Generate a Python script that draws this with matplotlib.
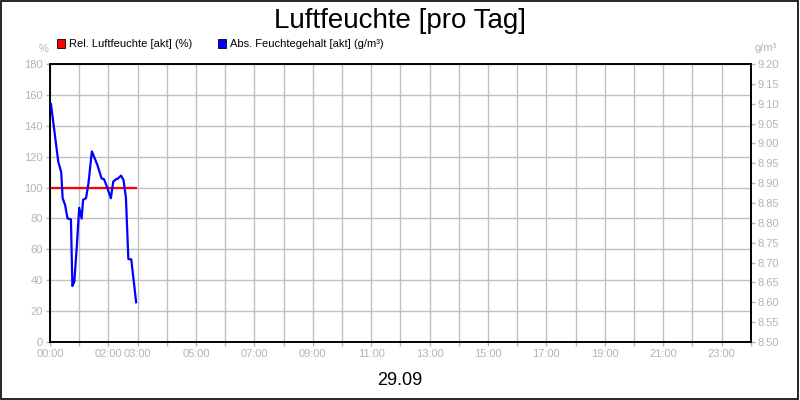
import matplotlib
matplotlib.use("Agg")
import matplotlib.pyplot as plt
from matplotlib.patches import Patch, Rectangle
import numpy as np

plt.rcParams['font.family'] = ['Liberation Sans', 'DejaVu Sans']

# Zeit in Minuten seit 00:00
rel_min = [0, 177]
rel_val = [100, 100]

abs_min = [2, 17, 23, 26, 31, 36, 43, 46, 50, 55, 60, 65, 68, 74, 79, 86,
           93, 97, 106, 111, 117, 125, 130, 136, 140, 146, 151, 156, 161, 167, 177]
abs_val = [9.099, 8.954, 8.928, 8.862, 8.845, 8.811, 8.809, 8.641, 8.652, 8.740,
           8.838, 8.811, 8.858, 8.862, 8.899, 8.980, 8.959, 8.947, 8.912, 8.910,
           8.891, 8.862, 8.904, 8.910, 8.912, 8.919, 8.908, 8.864, 8.709, 8.708, 8.600]

hour_labels = ['00:00', '', '02:00', '03:00', '', '05:00', '', '07:00', '', '09:00', '',
               '11:00', '', '13:00', '', '15:00', '', '17:00', '', '19:00', '',
               '21:00', '', '23:00', '']

grey = '#b4b4b4'

fig = plt.figure(figsize=(8, 4), dpi=100)
ax = fig.add_axes([0.0625, 0.145, 0.876, 0.695])
ax2 = ax.twinx()

ax.set_xlim(0, 24 * 60)
ax.set_ylim(0, 180)
ax.set_yticks(np.arange(0, 181, 20))
ax.set_xticks(np.arange(0, 24 * 60 + 1, 60))
ax.set_xticklabels(hour_labels)
ax.grid(True, color='#c0c0c0', linewidth=1)
ax.set_axisbelow(True)

ax2.set_ylim(8.50, 9.20)
ax2.set_yticks(np.arange(8.50, 9.201, 0.05))
ax2.set_yticklabels(['%.2f' % v for v in np.arange(8.50, 9.201, 0.05)])

for a in (ax, ax2):
    a.tick_params(colors=grey, labelsize=8, length=3, width=1, pad=2)
    for s in a.spines.values():
        s.set_color('black')
        s.set_linewidth(1.2)

ax.plot(rel_min, rel_val, color='#ff0000', linewidth=1.6, zorder=3)
ax2.plot(abs_min, abs_val, color='#0000ff', linewidth=1.6, zorder=3)

fig.text(0.5, 0.948, 'Luftfeuchte [pro Tag]', ha='center', va='center', fontsize=20)
fig.text(0.5, 0.048, '29.09', ha='center', va='center', fontsize=13)
fig.text(0.054, 0.878, '%', ha='center', va='center', fontsize=8, color=grey)
fig.text(0.957, 0.88, 'g/m³', ha='center', va='center', fontsize=8, color=grey)

handles = [Patch(facecolor='#ff0000', edgecolor='black', linewidth=0.6),
           Patch(facecolor='#0000ff', edgecolor='black', linewidth=0.6)]
fig.legend(handles, ['Rel. Luftfeuchte [akt] (%)', 'Abs. Feuchtegehalt [akt] (g/m³)'],
           loc='center left', bbox_to_anchor=(0.071, 0.889), ncol=2, frameon=False,
           fontsize=8, handlelength=0.75, handleheight=0.75, handletextpad=0.35,
           columnspacing=2.3, borderaxespad=0, borderpad=0)

fig.patches.append(Rectangle((0.001, 0.002), 0.997, 0.996, transform=fig.transFigure,
                             fill=False, edgecolor='black', linewidth=1.2))

fig.savefig('out.png', dpi=100)
